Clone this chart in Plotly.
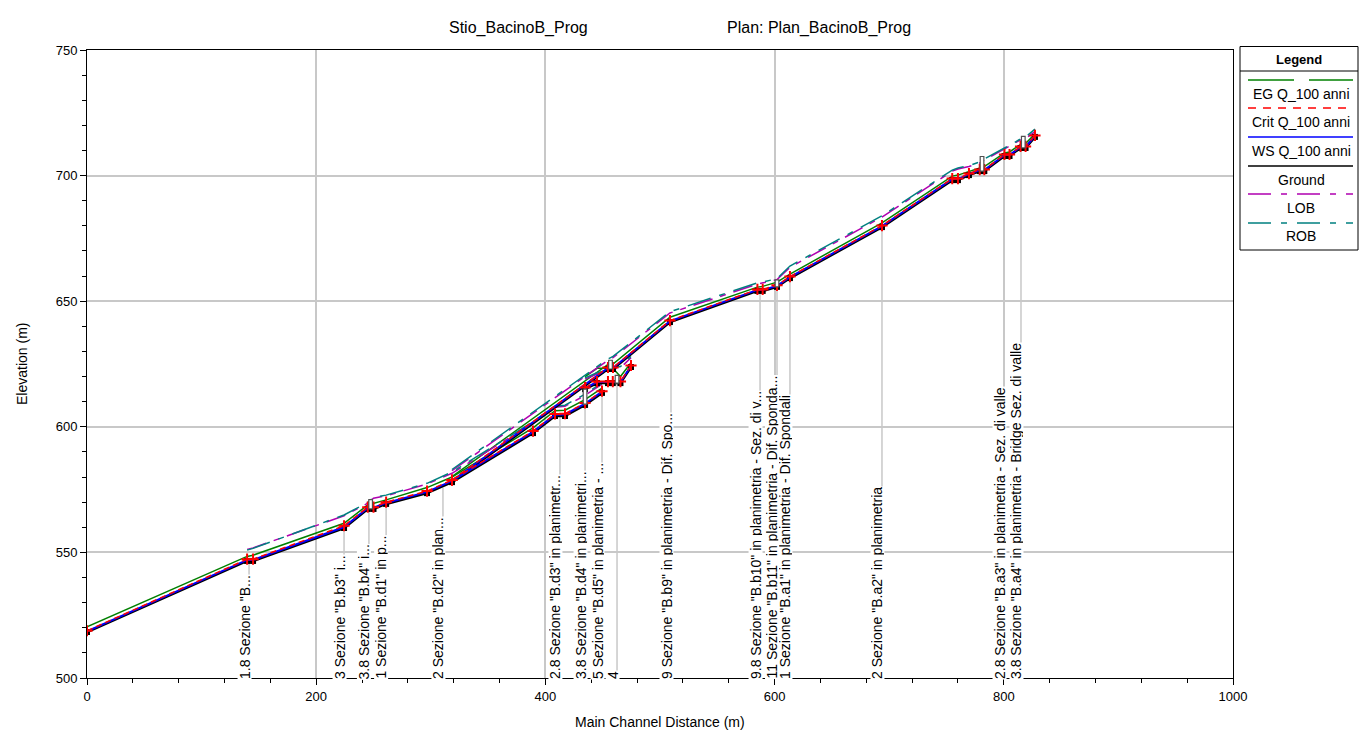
import plotly.graph_objects as go

# ---------------------------------------------------------------------------
# Profile data (main channel distance in m, elevations in m).
# None separates the three reach branches of the profile.
# ---------------------------------------------------------------------------
dist = [0, 139.7, 144.9, 224.3, 245.0, 250.0, 261.0, 296.7, 318.5, 389.2, 408.4, 417.1, 434.6, 449.4,
        None,
        434.6, 445.0, 454.6, 458.8, 465.5, 474.7,
        None,
        318.5, 454.6, 459.0, 508.7, 585.0, 589.6, 602.1, 613.4, 693.7, 755.0, 760.0, 769.6,
        779.0, 783.0, 800.6, 805.0, 814.6, 819.0, 827.2]

ground = [518.3, 546.6, 546.6, 559.7, 567.3, 567.3, 569.3, 573.6, 578.0, 597.5, 604.3, 604.3, 608.7, 613.5,
          None,
          615.0, 617.4, 617.4, 617.4, 617.4, 623.8,
          None,
          578.0, 623.0, 623.0, 641.7, 654.1, 654.1, 655.7, 659.2, 679.5, 698.2, 698.2, 700.2,
          701.8, 701.8, 707.8, 707.8, 711.0, 711.0, 715.4]

ws = [518.6, 547.0, 547.0, 560.1, 567.7, 567.8, 569.7, 574.1, 578.5, 598.0, 604.8, 604.9, 609.2, 614.0,
      None,
      615.4, 617.8, 617.8, 617.8, 617.8, 624.2,
      None,
      578.5, 623.4, 623.4, 642.1, 654.5, 654.5, 656.1, 659.6, 679.9, 698.6, 698.6, 700.6,
      702.2, 702.2, 708.2, 708.2, 711.4, 711.4, 715.8]

crit = [518.8, 547.3, 547.3, 560.6, 568.0, 568.0, 570.0, 574.4, 578.8, 598.3, 605.1, 605.2, 609.5, 614.2,
        None,
        615.6, 618.0, 618.0, 618.0, 618.0, 624.4,
        None,
        578.8, 623.6, 623.6, 642.3, 654.7, 654.7, 656.3, 659.8, 680.1, 698.8, 698.8, 700.8,
        702.4, 702.4, 708.4, 708.4, 711.6, 711.6, 716.0]

eg = [520.4, 548.4, 548.9, 561.6, 568.9, 569.6, 570.9, 575.8, 580.0, 599.6, 606.4, 606.6, 610.8, 615.4,
      None,
      620.0, 623.3, 623.3, 623.3, 620.0, 625.5,
      None,
      580.2, 624.8, 625.0, 643.6, 655.6, 655.9, 657.6, 660.8, 681.2, 699.8, 700.2, 701.6,
      703.0, 703.6, 709.0, 709.4, 712.4, 712.8, 716.6]

lob = [None, 551.2, 551.8, 564.6, 569.6, 571.6, 572.5, 577.2, 581.5, 601.5, 607.8, 608.2, 612.5, 617.0,
       None,
       619.0, 621.0, 622.0, 623.0, 623.5, 627.5,
       None,
       582.5, 626.5, 627.5, 645.3, 656.8, 657.2, 658.6, 663.5, 683.5, 701.8, 702.6, 703.6,
       705.0, 706.2, 710.5, 711.6, 714.2, 714.8, 717.5]

rob = [None, 550.9, 551.6, 564.9, 569.9, 571.8, 572.8, 577.5, 582.0, 602.0, 608.2, 608.6, 613.0, 617.5,
       None,
       619.5, 621.5, 622.5, 623.5, 624.0, 628.0,
       None,
       583.0, 627.0, 628.0, 645.8, 657.3, 657.6, 659.0, 664.0, 684.0, 702.2, 703.0, 704.0,
       705.4, 706.6, 711.0, 712.0, 714.6, 715.4, 718.5]

# Bridge decks: station, low chord, high chord
bridge_dist = [247.5, 434.6, 456.8, 462.5, 602.1, 781.0, 817.0]
bridge_low = [567.3, 609.0, 623.0, 617.4, 655.7, 701.8, 711.0]
bridge_high = [571.0, 615.0, 626.5, 620.5, 658.5, 707.6, 715.6]

# Cross-section labels: station, ground elevation at the station, label text
label_dist = [141.4, 224.3, 246.0, 261.0, 310.6, 412.7, 434.6, 449.4, 462.5,
              509.6, 587.3, 602.1, 613.4, 693.7, 800.2, 815.0]
label_top = [546.6, 559.7, 567.3, 569.3, 575.7, 604.3, 608.7, 613.5, 617.4,
             641.7, 654.1, 655.7, 659.2, 679.5, 707.8, 711.0]
label_text = [
    '1.8 Sezione "B...',
    '3 Sezione "B.b3" i...',
    '3.8 Sezione "B.b4" i...',
    '1 Sezione "B.d1" in p...',
    '2 Sezione "B.d2" in plan...',
    '2.8 Sezione "B.d3" in planimetr...',
    '3.8 Sezione "B.d4" in planimetri...',
    '5 Sezione "B.d5" in planimetria - ...',
    '4',
    '9 Sezione "B.b9" in planimetria - Dif. Spo...',
    '9.8 Sezione "B.b10" in planimetria - Sez. di v...',
    '11 Sezione "B.b11" in planimetria - Dif. Sponda...',
    '1 Sezione "B.a1" in planimetria - Dif. Spondali',
    '2 Sezione "B.a2" in planimetria',
    '2.8 Sezione "B.a3" in planimetria - Sez. di valle',
    '3.8 Sezione "B.a4" in planimetria - Bridge Sez. di valle',
]

FONT = "Liberation Sans, Arial, sans-serif"
C_EG = "#008000"
C_CRIT = "#ff0000"
C_WS = "#0000ff"
C_GROUND = "#000000"
C_LOB = "#b000b0"
C_ROB = "#008080"
DASH_LOB = "20px,8px,6px,8px"
DASH_ROB = "24px,9px,6px,9px"

W, H = 1372, 731
ML, MR, MT, MB = 87, 139, 50, 53
PW, PH = W - ML - MR, H - MT - MB


def px_x(px):
    return (px - ML) / PW


def px_y(py):
    return (H - MB - py) / PH


fig = go.Figure()

fig.add_trace(go.Scatter(x=dist, y=eg, mode="lines", name="EG Q_100 anni",
                         line=dict(color=C_EG, width=1.5), connectgaps=False))
fig.add_trace(go.Scatter(x=dist, y=lob, mode="lines", name="LOB",
                         line=dict(color=C_LOB, width=1.5, dash=DASH_LOB), connectgaps=False))
fig.add_trace(go.Scatter(x=dist, y=rob, mode="lines", name="ROB",
                         line=dict(color=C_ROB, width=1.5, dash=DASH_ROB), connectgaps=False))
fig.add_trace(go.Scatter(x=dist, y=ground, mode="lines+markers", name="Ground",
                         line=dict(color=C_GROUND, width=2.5),
                         marker=dict(symbol="square", size=6, color=C_GROUND), connectgaps=False))
fig.add_trace(go.Scatter(x=dist, y=ws, mode="lines", name="WS Q_100 anni",
                         line=dict(color=C_WS, width=2), connectgaps=False))
fig.add_trace(go.Scatter(x=dist, y=crit, mode="lines+markers", name="Crit Q_100 anni",
                         line=dict(color=C_CRIT, width=1.5, dash="6px,4px"),
                         marker=dict(symbol="cross-thin", size=8, line=dict(color=C_CRIT, width=2)),
                         connectgaps=False))

shapes = []
annotations = []

# vertical station lines from the axis up to the ground
for d, top in zip(label_dist, label_top):
    shapes.append(dict(type="line", xref="x", yref="y", x0=d, x1=d, y0=500, y1=top,
                       line=dict(color="#c8c8c8", width=1.5), layer="below"))

# bridge decks
for d, lo, hi in zip(bridge_dist, bridge_low, bridge_high):
    shapes.append(dict(type="rect", xref="x", yref="y", x0=d - 1.6, x1=d + 1.6, y0=lo, y1=hi,
                       line=dict(color="#505050", width=1.2), fillcolor="white", layer="above"))

# rotated station labels
for d, t in zip(label_dist, label_text):
    annotations.append(dict(x=d, y=500, xref="x", yref="y", text=t, textangle=-90,
                            showarrow=False, xanchor="center", yanchor="bottom",
                            xshift=-5, yshift=-2, bgcolor="white", borderpad=0, height=13,
                            font=dict(family=FONT, size=14, color="black")))

# title
annotations.append(dict(x=px_x(518), y=px_y(28), xref="paper", yref="paper",
                        xanchor="center", yanchor="middle",
                        text="Stio_BacinoB_Prog", showarrow=False,
                        font=dict(family=FONT, size=16, color="black")))
annotations.append(dict(x=px_x(819), y=px_y(28), xref="paper", yref="paper",
                        xanchor="center", yanchor="middle",
                        text="Plan: Plan_BacinoB_Prog", showarrow=False,
                        font=dict(family=FONT, size=16, color="black")))

# axis titles
annotations.append(dict(x=px_x(660), y=px_y(722), xref="paper", yref="paper",
                        xanchor="center", yanchor="middle",
                        text="Main Channel Distance (m)", showarrow=False,
                        font=dict(family=FONT, size=14, color="black")))
annotations.append(dict(x=px_x(22), y=px_y(364), xref="paper", yref="paper",
                        xanchor="center", yanchor="middle", textangle=-90,
                        text="Elevation (m)", showarrow=False,
                        font=dict(family=FONT, size=14, color="black")))

# legend box
LX0, LX1 = px_x(1240), px_x(1358)
shapes.append(dict(type="rect", xref="paper", yref="paper", x0=LX0, x1=LX1,
                   y0=px_y(250), y1=px_y(46.5), line=dict(color="black", width=1),
                   fillcolor="white", layer="above"))
shapes.append(dict(type="line", xref="paper", yref="paper", x0=LX0, x1=LX1,
                   y0=px_y(71), y1=px_y(71), line=dict(color="black", width=1), layer="above"))
annotations.append(dict(x=px_x(1299), y=px_y(59), xref="paper", yref="paper",
                        xanchor="center", yanchor="middle",
                        text="<b>Legend</b>", showarrow=False,
                        font=dict(family=FONT, size=13, color="black")))

legend_items = [
    ("EG Q_100 anni", C_EG, "solid", 80, 94),
    ("Crit Q_100 anni", C_CRIT, "8px,7px", 108, 122),
    ("WS Q_100 anni", C_WS, "solid", 137, 151),
    ("Ground", C_GROUND, "solid", 166, 180),
    ("LOB", C_LOB, "23px,10px,6px,10px", 194, 208),
    ("ROB", C_ROB, "23px,10px,6px,10px", 223, 236),
]
SX0, SX1 = 1248, 1353
for name, col, dash, ly, ty in legend_items:
    if name.startswith("EG"):
        segs = [(SX0, 1294), (1309, SX1)]
    else:
        segs = [(SX0, SX1)]
    for a, b in segs:
        shapes.append(dict(type="line", xref="paper", yref="paper", x0=px_x(a), x1=px_x(b),
                           y0=px_y(ly), y1=px_y(ly), line=dict(color=col, width=1.5, dash=dash),
                           layer="above"))
    annotations.append(dict(x=px_x(1301), y=px_y(ty), xref="paper", yref="paper",
                            xanchor="center", yanchor="middle",
                            text=name, showarrow=False,
                            font=dict(family=FONT, size=14, color="black")))

# legend line markers
fig.add_trace(go.Scatter(x=[px_x(1301)], y=[px_y(166)], xaxis="x2", yaxis="y2", mode="markers",
                         marker=dict(symbol="square", size=6, color=C_GROUND),
                         hoverinfo="skip", showlegend=False, cliponaxis=False))
fig.add_trace(go.Scatter(x=[px_x(1301)], y=[px_y(108)], xaxis="x2", yaxis="y2", mode="markers",
                         marker=dict(symbol="cross-thin", size=8, line=dict(color=C_CRIT, width=1.5)),
                         hoverinfo="skip", showlegend=False, cliponaxis=False))

fig.update_layout(
    width=W, height=H,
    margin=dict(l=ML, r=MR, t=MT, b=MB, autoexpand=False),
    paper_bgcolor="white", plot_bgcolor="white",
    showlegend=False,
    font=dict(family=FONT, size=13, color="black"),
    shapes=shapes,
    annotations=annotations,
    xaxis=dict(range=[0, 1000], dtick=200, tick0=0, showgrid=True, gridcolor="#c8c8c8",
               gridwidth=1.5, zeroline=False, showline=True, linecolor="black", linewidth=1,
               mirror=True, ticks="outside", ticklen=6, tickcolor="black", automargin=False,
               minor=dict(dtick=40, ticks="outside", ticklen=4, tickcolor="black", showgrid=False),
               tickfont=dict(family=FONT, size=13)),
    yaxis=dict(range=[500, 750], dtick=50, tick0=500, showgrid=True, gridcolor="#c8c8c8",
               gridwidth=1.5, zeroline=False, showline=True, linecolor="black", linewidth=1,
               mirror=True, ticks="outside", ticklen=6, tickcolor="black", automargin=False,
               minor=dict(dtick=10, ticks="outside", ticklen=4, tickcolor="black", showgrid=False),
               tickfont=dict(family=FONT, size=13)),
    xaxis2=dict(range=[0, 1], domain=[0, 1], overlaying="x", visible=False, fixedrange=True),
    yaxis2=dict(range=[0, 1], domain=[0, 1], overlaying="y", visible=False, fixedrange=True),
)

fig.write_html("out.html")
